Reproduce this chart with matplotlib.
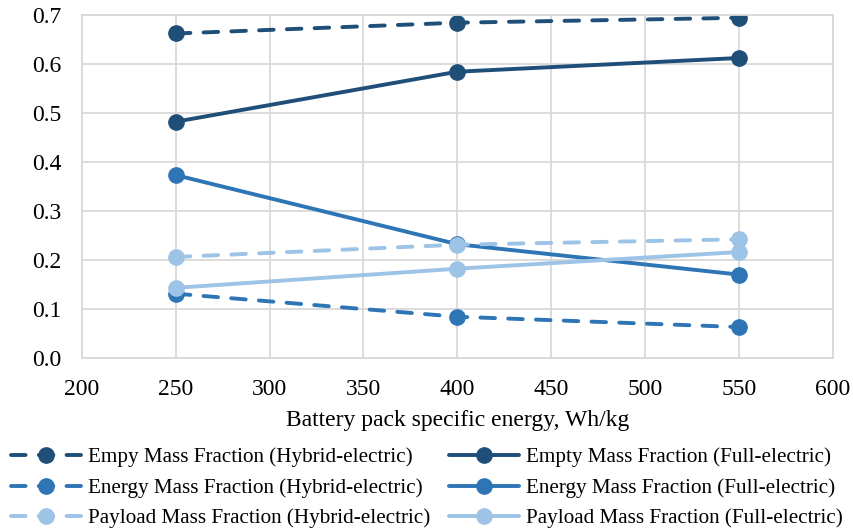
import matplotlib
matplotlib.use("Agg")
import matplotlib.pyplot as plt
from matplotlib.ticker import FormatStrFormatter

plt.rcParams['font.family'] = ['Liberation Serif', 'DejaVu Serif']
plt.rcParams['lines.scale_dashes'] = False

energy_density = [250, 400, 550]

empty_hybrid = [0.662, 0.684, 0.694]
empty_full = [0.482, 0.584, 0.612]
energy_hybrid = [0.131, 0.084, 0.063]
energy_full = [0.373, 0.232, 0.170]
payload_hybrid = [0.206, 0.231, 0.242]
payload_full = [0.143, 0.182, 0.216]

labels = [
    "Empy Mass Fraction (Hybrid-electric)",
    "Empty Mass Fraction (Full-electric)",
    "Energy Mass Fraction (Hybrid-electric)",
    "Energy Mass Fraction (Full-electric)",
    "Payload Mass Fraction (Hybrid-electric)",
    "Payload Mass Fraction (Full-electric)",
]

dark = "#1F4E79"
mid = "#2E75B6"
light = "#9DC3E6"

series = [
    (empty_hybrid, dark, True),
    (empty_full, dark, False),
    (energy_hybrid, mid, True),
    (energy_full, mid, False),
    (payload_hybrid, light, True),
    (payload_full, light, False),
]

fig = plt.figure(figsize=(8.54, 5.31), dpi=100)
ax = fig.add_axes([0.096, 0.326, 0.879, 0.646])

handles = []
for (vals, color, dashed), label in zip(series, labels):
    line, = ax.plot(energy_density, vals, color=color, lw=2.8,
                    marker='o', markersize=11, label=label,
                    linestyle=(0, (10.5, 9.5)) if dashed else '-',
                    dash_capstyle='round', solid_capstyle='round')
    handles.append(line)

ax.set_xlim(200, 600)
ax.set_ylim(0, 0.7)
ax.set_xticks(range(200, 601, 50))
ax.set_yticks([i / 10 for i in range(8)])
ax.yaxis.set_major_formatter(FormatStrFormatter('%.1f'))
ax.grid(True, color='#D9D9D9', lw=1.3)
ax.set_axisbelow(True)
for s in ax.spines.values():
    s.set_color('#D9D9D9')
    s.set_linewidth(1.3)
ax.tick_params(length=0, labelsize=17)
ax.tick_params(axis='x', pad=15)
ax.tick_params(axis='y', pad=15)
ax.set_xlabel("Battery pack specific energy, Wh/kg", fontsize=17, labelpad=7.5)

order = [0, 2, 4, 1, 3, 5]
fig.legend([handles[i] for i in order], [labels[i] for i in order],
           ncol=2, loc='upper center', bbox_to_anchor=(0.5, 0.157),
           frameon=False, fontsize=15.2, handlelength=3.3,
           borderpad=0, borderaxespad=0,
           columnspacing=0.9, labelspacing=0.51, handletextpad=0.33)

fig.savefig("out.png", dpi=100)
